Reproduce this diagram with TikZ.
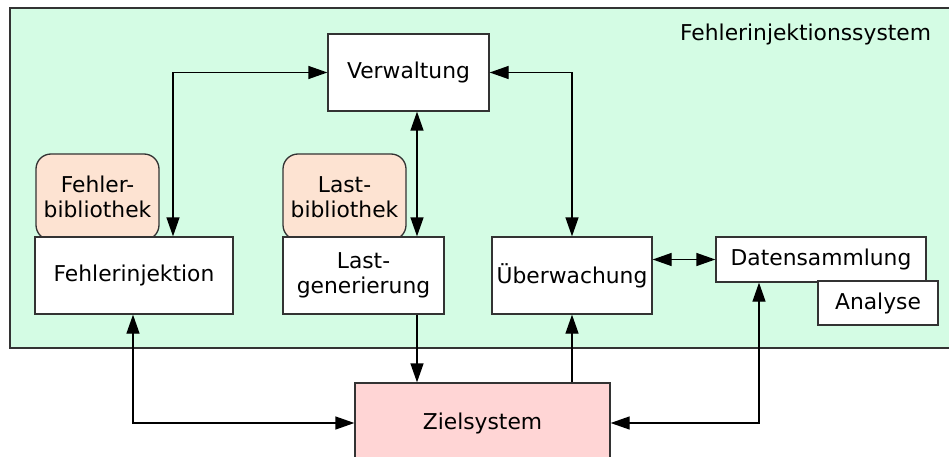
\documentclass[tikz,border=0pt]{standalone}
\usepackage{fontspec}
\setmainfont{DejaVu Sans}
\usetikzlibrary{arrows.meta}
\definecolor{sysgreen}{HTML}{D4FCE4}
\definecolor{libpeach}{HTML}{FDE3D2}
\definecolor{targetpink}{HTML}{FFD5D5}
\definecolor{edge}{HTML}{333333}
\begin{document}
\begin{tikzpicture}[x=1pt,y=-1pt,
  font=\fontsize{21.8}{25.5}\selectfont,
  line width=1.3pt,
  box/.style={draw=edge, fill=white, inner sep=0pt, align=center},
  libbox/.style={draw=edge, fill=libpeach, rounded corners=15pt, inner sep=0pt,
                 align=center, minimum width=123pt, minimum height=86pt},
  biarrow/.style={draw=black, {Triangle[length=19pt,width=13pt]}-{Triangle[length=19pt,width=13pt]}},
  uniarrow/.style={draw=black, -{Triangle[length=19pt,width=13pt]}}]
  \useasboundingbox (0,0) rectangle (949,457);
  \clip (0,0) rectangle (949,457);

  % enclosing system area
  \draw[draw=edge, fill=sysgreen] (10,8) rectangle (970,348);
  \node[anchor=base east] (title) at (935,41) {Fehlerinjektionssystem};

  % libraries (partly behind the component boxes)
  \node[libbox] (fbib) at (97.5,197) {Fehler-\\bibliothek};
  \node[libbox] (lbib) at (344.5,197) {Last-\\bibliothek};

  % components
  \node[box, minimum width=161pt, minimum height=77pt] (verw) at (408.5,72.5) {Verwaltung};
  \node[box, minimum width=198pt, minimum height=77pt] (finj) at (134,275.5) {Fehlerinjektion};
  \node[box, minimum width=161pt, minimum height=77pt] (lgen) at (363.5,275.5) {Last-\\generierung};
  \node[box, minimum width=160pt, minimum height=77pt] (ueb) at (572,275.5) {Überwachung};
  \node[box, minimum width=210pt, minimum height=45pt] (daten) at (821,259.5) {Datensammlung};
  \node[box, minimum width=120pt, minimum height=44pt] (anal) at (878,303) {Analyse};
  \node[box, fill=targetpink, minimum width=255pt, minimum height=80pt] (ziel) at (482.5,423) {Zielsystem};

  % connections
  \draw[biarrow] ([xshift=39pt]finj.north) |- (verw.west);
  \draw[biarrow] ([xshift=8.5pt]verw.south) -- ([xshift=53.5pt]lgen.north);
  \draw[biarrow] (verw.east) -| (ueb.north);
  \draw[biarrow] (ueb.east |- daten.west) -- (daten.west);
  \draw[biarrow] ([xshift=-1pt]finj.south) |- (ziel.west);
  \draw[uniarrow] ([xshift=53.5pt]lgen.south) -- ([xshift=53.5pt]lgen.south |- ziel.north);
  \draw[uniarrow] (ueb.south |- ziel.north) -- (ueb.south);
  \draw[biarrow] ([xshift=-62pt]daten.south) |- (ziel.east);
\end{tikzpicture}
\end{document}
